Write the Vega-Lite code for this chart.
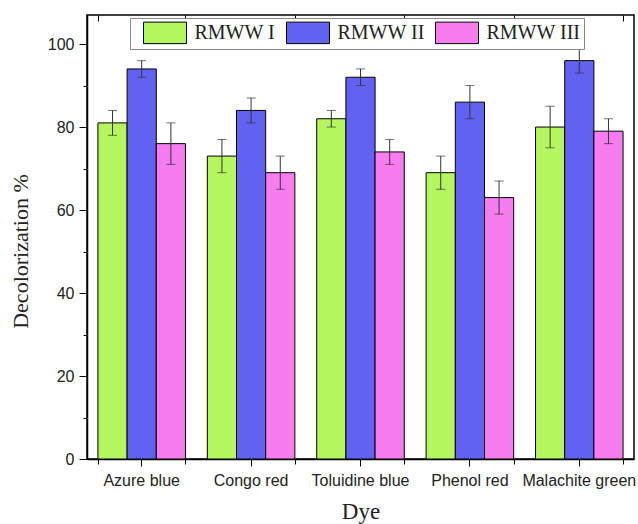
{
  "$schema": "https://vega.github.io/schema/vega-lite/v6.json",
  "width": 547,
  "height": 444,
  "autosize": "none",
  "padding": {"left": 87, "top": 15, "right": 4, "bottom": 65},
  "background": "white",
  "config": {
    "view": {"stroke": "black", "strokeWidth": 1.5},
    "axis": {"labelFont": "Liberation Sans", "labelFontSize": 16, "labelColor": "#222", "titleFont": "Liberation Serif", "titleFontWeight": "normal", "titleColor": "#222", "domainColor": "black", "tickColor": "black", "grid": false}
  },
  "data": {"values": [
    {"dye": "Azure blue", "series": "RMWW I", "val": 81, "lo": 78, "hi": 84},
    {"dye": "Azure blue", "series": "RMWW II", "val": 94, "lo": 92, "hi": 96},
    {"dye": "Azure blue", "series": "RMWW III", "val": 76, "lo": 71, "hi": 81},
    {"dye": "Congo red", "series": "RMWW I", "val": 73, "lo": 69, "hi": 77},
    {"dye": "Congo red", "series": "RMWW II", "val": 84, "lo": 81, "hi": 87},
    {"dye": "Congo red", "series": "RMWW III", "val": 69, "lo": 65, "hi": 73},
    {"dye": "Toluidine blue", "series": "RMWW I", "val": 82, "lo": 80, "hi": 84},
    {"dye": "Toluidine blue", "series": "RMWW II", "val": 92, "lo": 90, "hi": 94},
    {"dye": "Toluidine blue", "series": "RMWW III", "val": 74, "lo": 71, "hi": 77},
    {"dye": "Phenol red", "series": "RMWW I", "val": 69, "lo": 65, "hi": 73},
    {"dye": "Phenol red", "series": "RMWW II", "val": 86, "lo": 82, "hi": 90},
    {"dye": "Phenol red", "series": "RMWW III", "val": 63, "lo": 59, "hi": 67},
    {"dye": "Malachite green", "series": "RMWW I", "val": 80, "lo": 75, "hi": 85},
    {"dye": "Malachite green", "series": "RMWW II", "val": 96, "lo": 93, "hi": 99},
    {"dye": "Malachite green", "series": "RMWW III", "val": 79, "lo": 76, "hi": 82}
  ]},
  "layer": [
    {
      "mark": {"type": "bar", "stroke": "black", "strokeWidth": 1},
      "encoding": {
        "x": {"field": "dye", "type": "nominal", "sort": null,
          "scale": {"paddingInner": 0.2, "paddingOuter": 0.1},
          "axis": {"title": "Dye", "titleFontSize": 23, "titlePadding": 12, "labelAngle": 0, "labelPadding": 6, "tickSize": 7, "domainWidth": 1.5}},
        "xOffset": {"field": "series", "type": "nominal", "sort": null, "scale": {"paddingInner": 0, "paddingOuter": 0}},
        "y": {"field": "val", "type": "quantitative", "scale": {"domain": [0, 107], "nice": false},
          "axis": {"title": "Decolorization %", "titleFontSize": 22, "titlePadding": 15, "titleY": 236, "values": [0, 10, 20, 30, 40, 50, 60, 70, 80, 90, 100],
            "labelExpr": "datum.value % 20 === 0 ? datum.label : ''",
            "tickSize": {"condition": {"test": "datum.value % 20 === 0", "value": 8}, "value": 4},
            "labelPadding": 5, "domainWidth": 1.5}},
        "color": {"field": "series", "type": "nominal", "sort": null,
          "scale": {"domain": ["RMWW I", "RMWW II", "RMWW III"], "range": ["#b5f55f", "#6262f2", "#f67cf0"]},
          "legend": {"title": null, "orient": "none", "direction": "horizontal", "legendX": 43, "legendY": 3,
            "symbolType": "M-2,-1H2V1H-2Z", "symbolSize": 462, "symbolStrokeColor": "black", "symbolStrokeWidth": 1, "symbolOpacity": 1,
            "symbolOffset": 20.5, "labelOffset": 18, "columnPadding": 0, "padding": 3,
            "labelExpr": "datum.label === 'RMWW III' ? datum.label + '\u00a0\u00a0\u00a0' : datum.label",
            "labelFont": "Liberation Serif", "labelFontSize": 20, "labelColor": "#222",
            "strokeColor": "#888", "fillColor": "white"}}
      }
    },
    {
      "mark": {"type": "rule", "color": "#333", "strokeWidth": 1},
      "encoding": {
        "x": {"field": "dye", "type": "nominal", "sort": null,
          "axis": {"orient": "top", "title": null, "labels": false, "domain": false, "tickBand": "extent", "tickSize": -6}},
        "xOffset": {"field": "series", "type": "nominal", "sort": null},
        "y": {"field": "lo", "type": "quantitative", "title": "Decolorization %"},
        "y2": {"field": "hi"}
      }
    },
    {
      "mark": {"type": "tick", "color": "#333", "size": 9, "thickness": 1},
      "encoding": {
        "x": {"field": "dye", "type": "nominal", "sort": null,
          "axis": {"orient": "bottom", "title": null, "labels": false, "domain": false, "tickBand": "extent", "tickSize": 5}},
        "xOffset": {"field": "series", "type": "nominal", "sort": null},
        "y": {"field": "lo", "type": "quantitative", "title": "Decolorization %"}
      }
    },
    {
      "mark": {"type": "tick", "color": "#333", "size": 9, "thickness": 1},
      "encoding": {
        "x": {"field": "dye", "type": "nominal", "sort": null, "axis": null},
        "xOffset": {"field": "series", "type": "nominal", "sort": null},
        "y": {"field": "hi", "type": "quantitative", "title": "Decolorization %"}
      }
    }
  ],
  "resolve": {"axis": {"x": "independent"}}
}
